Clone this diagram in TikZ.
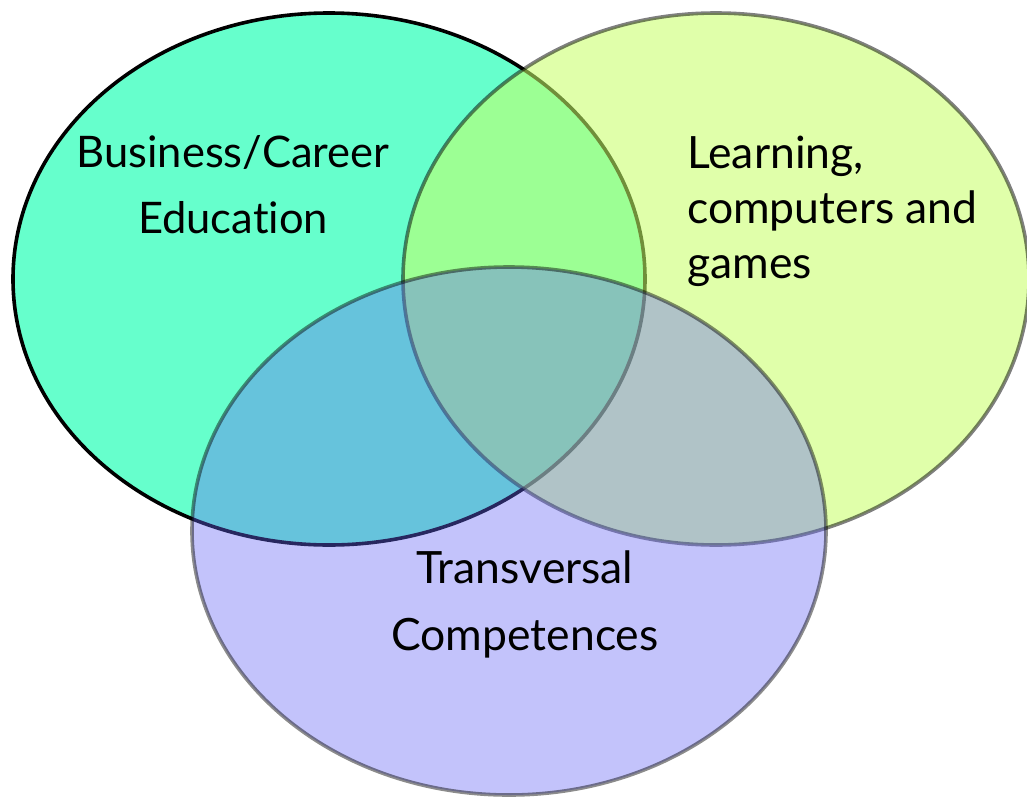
\documentclass[tikz,border=0pt]{standalone}
\usepackage{fontspec}
\setmainfont{Lato}[Ligatures={NoCommon}]
\definecolor{mint}{RGB}{102,255,204}
\definecolor{lime}{RGB}{200,255,105}
\definecolor{lav}{RGB}{102,102,247}
\begin{document}
\begin{tikzpicture}[x=1pt,y=-1pt,
  venn/.style={line width=3.6pt},
  lbl/.style={inner sep=0pt, anchor=base}]
\useasboundingbox (0,0) rectangle (1027,798);
\fill[white] (0,0) rectangle (1027,798);
% Business/Career Education
\path[venn, draw=black, fill=mint] (329,279) ellipse [x radius=316, y radius=266];
% Learning, computers and games
\path[venn, draw=black, draw opacity=0.5, fill=lime, fill opacity=0.56] (716,279) ellipse [x radius=313, y radius=266];
% Transversal Competences
\path[venn, draw=black, draw opacity=0.45, fill=lav, fill opacity=0.39] (509,531) ellipse [x radius=317, y radius=264];
\node[lbl, align=center, font=\fontsize{43.5}{66}\selectfont] (bus) at (233,233) {Business/Career\\Education};
\node[lbl, align=left, anchor=base west, font=\fontsize{44.5}{55}\selectfont] (learn) at (687,278) {Learning,\\computers and\\games};
\node[lbl, align=center, font=\fontsize{44.5}{67}\selectfont] (trans) at (525,650) {Transversal\\Competences};
\end{tikzpicture}
\end{document}
